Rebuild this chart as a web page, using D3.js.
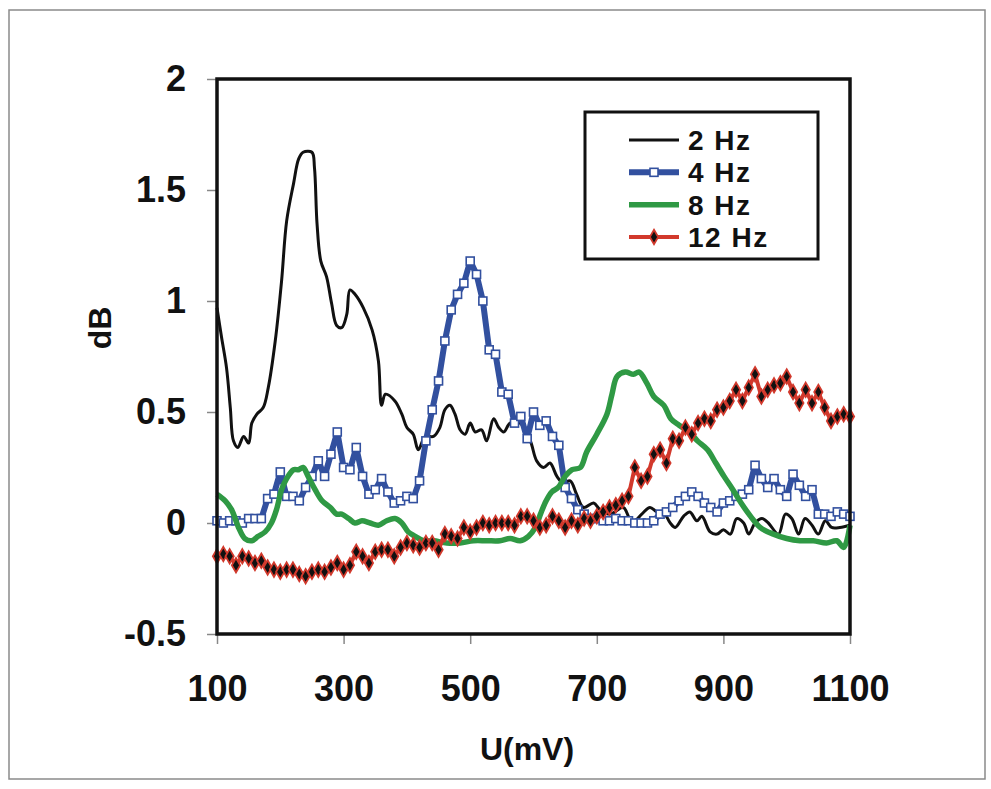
<!DOCTYPE html>
<html>
<head>
<meta charset="utf-8">
<script src="https://cdn.jsdelivr.net/npm/d3@7"></script>
<style>
  body { margin: 0; background: #fff; }
  text { font-family: "Liberation Sans", Arial, sans-serif; font-weight: bold; fill: #111; }
</style>
</head>
<body>
<div id="chart"></div>
<script>
// 2 Hz (black, smooth line)
const hz2X = [100,107,115,121,126,133,142,150,155,163,173,181,192,202,210,221,229,236,250,254,258,264,273,281,289,297,305,310,318,331,345,355,360,366,381,392,400,410,418,429,442,452,460,468,476,484,492,500,508,518,526,537,545,553,563,579,595,605,616,626,637,647,658,668,679,695,705,721,742,752,760,771,784,795,805,816,824,837,847,858,866,879,890,900,911,921,932,940,950,961,971,987,998,1008,1019,1029,1040,1050,1061,1071,1084,1100];
const hz2Y = [0.97,0.84,0.70,0.52,0.37,0.34,0.39,0.36,0.45,0.49,0.52,0.61,0.82,1.09,1.36,1.53,1.64,1.67,1.67,1.60,1.35,1.18,1.11,0.99,0.89,0.88,0.94,1.05,1.03,0.97,0.87,0.73,0.53,0.58,0.55,0.49,0.43,0.40,0.33,0.39,0.39,0.43,0.51,0.53,0.49,0.42,0.40,0.45,0.41,0.42,0.37,0.47,0.43,0.41,0.45,0.45,0.37,0.28,0.25,0.27,0.21,0.18,0.19,0.13,0.07,0.09,0.06,0.04,0.07,0.02,0.01,0.04,0.07,0.05,0.05,0.00,-0.02,0.03,0.05,0.01,0.03,-0.04,-0.05,-0.03,-0.05,0.02,0.00,-0.05,0.00,0.02,0.00,-0.05,0.04,0.02,-0.05,0.02,-0.01,-0.05,0.01,-0.02,-0.02,-0.01];

// 4 Hz and 12 Hz are sampled every 10 mV
const stepX = d3.range(100, 1101, 10);
const hz4Y = [0.01,0.00,0.01,0.01,0.00,0.02,0.02,0.02,0.11,0.13,0.23,0.12,0.12,0.10,0.16,0.21,0.28,0.21,0.31,0.41,0.25,0.24,0.34,0.21,0.13,0.15,0.20,0.14,0.09,0.10,0.12,0.11,0.19,0.37,0.51,0.64,0.82,0.96,1.03,1.08,1.18,1.12,1.00,0.78,0.76,0.59,0.58,0.45,0.48,0.38,0.50,0.44,0.46,0.39,0.35,0.16,0.11,0.06,0.04,0.02,0.02,0.01,0.01,0.02,0.01,0.01,0.00,0.00,0.00,0.01,0.04,0.05,0.07,0.10,0.12,0.14,0.12,0.09,0.07,0.05,0.09,0.10,0.12,0.13,0.15,0.26,0.20,0.16,0.20,0.15,0.12,0.22,0.17,0.12,0.15,0.04,0.04,0.03,0.05,0.04,0.03];
const hz12Y = [-0.15,-0.14,-0.15,-0.19,-0.15,-0.16,-0.18,-0.17,-0.20,-0.21,-0.22,-0.21,-0.21,-0.23,-0.24,-0.22,-0.21,-0.22,-0.20,-0.18,-0.21,-0.19,-0.13,-0.15,-0.18,-0.13,-0.12,-0.12,-0.15,-0.11,-0.09,-0.10,-0.11,-0.09,-0.09,-0.12,-0.05,-0.06,-0.07,-0.02,-0.04,-0.02,0.00,-0.01,0.00,0.00,0.00,-0.01,0.03,0.03,0.01,-0.02,-0.01,0.03,0.01,-0.02,0.01,-0.01,0.02,0.01,0.03,0.05,0.07,0.08,0.10,0.12,0.25,0.19,0.21,0.31,0.33,0.27,0.38,0.37,0.43,0.40,0.45,0.47,0.46,0.51,0.52,0.55,0.60,0.55,0.61,0.67,0.57,0.60,0.62,0.63,0.66,0.59,0.54,0.60,0.54,0.59,0.52,0.46,0.48,0.49,0.48];

// 8 Hz (green, smooth line)
const hz8X = [100,113,123,134,144,155,165,176,186,194,202,210,221,229,236,244,255,266,279,289,297,308,318,329,342,355,368,381,392,402,413,426,442,463,484,505,526,547,563,579,592,603,611,620,629,639,650,661,674,684,700,716,724,732,745,758,767,779,790,806,817,830,846,859,875,888,901,915,928,943,958,979,1000,1021,1042,1063,1079,1090,1100];
const hz8Y = [0.13,0.10,0.06,-0.02,-0.07,-0.08,-0.06,-0.04,0.00,0.06,0.15,0.20,0.24,0.24,0.25,0.21,0.15,0.10,0.07,0.04,0.04,0.02,0.00,0.01,0.00,-0.01,0.01,0.02,0.00,-0.04,-0.06,-0.08,-0.08,-0.09,-0.09,-0.08,-0.08,-0.08,-0.07,-0.08,-0.06,-0.02,0.04,0.10,0.14,0.16,0.21,0.24,0.25,0.32,0.40,0.49,0.58,0.66,0.68,0.67,0.68,0.63,0.57,0.53,0.47,0.44,0.41,0.37,0.33,0.27,0.21,0.15,0.09,0.03,-0.02,-0.05,-0.07,-0.08,-0.08,-0.09,-0.08,-0.11,-0.01];

const seriesNames = ["2 Hz", "4 Hz", "8 Hz", "12 Hz"];
const yTicks = [-0.5, 0, 0.5, 1, 1.5, 2];
const xTicks = [100, 300, 500, 700, 900, 1100];

const width = 991, height = 789;
const plot = {left: 217, right: 850, top: 79, bottom: 634};

const blue = "#32509f", green = "#2f9944", red = "#d2392c";

const svg = d3.select("#chart").append("svg")
  .attr("width", width)
  .attr("height", height);

// outer frame
svg.append("rect")
  .attr("x", 9).attr("y", 10)
  .attr("width", 976).attr("height", 769)
  .attr("fill", "none")
  .attr("stroke", "#8a8a8a")
  .attr("stroke-width", 1.5);

const x = d3.scaleLinear().domain([100, 1100]).range([plot.left, plot.right]);
const y = d3.scaleLinear().domain([-0.5, 2]).range([plot.bottom, plot.top]);

const yAxis = d3.axisLeft(y).tickValues(yTicks).tickSize(10).tickPadding(21).tickFormat(d => String(d));
const xAxis = d3.axisBottom(x).tickValues(xTicks).tickSize(10).tickPadding(31).tickFormat(d => String(d));

const gy = svg.append("g").attr("transform", `translate(${plot.left},0)`).call(yAxis);
const gx = svg.append("g").attr("transform", `translate(0,${plot.bottom})`).call(xAxis);

[gx, gy].forEach(g => {
  g.select(".domain").remove();
  g.selectAll(".tick line").attr("stroke", "#888").attr("stroke-width", 1.5);
  g.selectAll(".tick text")
    .attr("font-size", 36)
    .attr("font-family", '"Liberation Sans", Arial, sans-serif')
    .attr("font-weight", "bold")
    .attr("fill", "#111");
});

svg.append("text")
  .attr("transform", "translate(111,328) rotate(-90)")
  .attr("text-anchor", "middle")
  .attr("font-size", 32)
  .text("dB");

svg.append("text")
  .attr("x", 527).attr("y", 760)
  .attr("text-anchor", "middle")
  .attr("font-size", 32)
  .text("U(mV)");

const smooth = d3.line().x(d => x(d[0])).y(d => y(d[1])).curve(d3.curveCatmullRom);
const straight = d3.line().x(d => x(d[0])).y(d => y(d[1]));

const hz2 = d3.zip(hz2X, hz2Y);
const hz4 = d3.zip(stepX, hz4Y);
const hz8 = d3.zip(hz8X, hz8Y);
const hz12 = d3.zip(stepX, hz12Y);

const diamond = d3.symbol().type(d3.symbolDiamond).size(60);

svg.append("path").datum(hz2)
  .attr("d", smooth)
  .attr("fill", "none").attr("stroke", "#111").attr("stroke-width", 3);

svg.append("path").datum(hz4)
  .attr("d", straight)
  .attr("fill", "none").attr("stroke", blue).attr("stroke-width", 6)
  .attr("stroke-linejoin", "round");

svg.selectAll("rect.m4").data(hz4).enter().append("rect")
  .attr("class", "m4")
  .attr("x", d => x(d[0]) - 4).attr("y", d => y(d[1]) - 4)
  .attr("width", 8).attr("height", 8)
  .attr("fill", "#fff").attr("stroke", blue).attr("stroke-width", 1.6);

svg.append("path").datum(hz8)
  .attr("d", smooth)
  .attr("fill", "none").attr("stroke", green).attr("stroke-width", 5.5)
  .attr("stroke-linejoin", "round");

svg.append("path").datum(hz12)
  .attr("d", straight)
  .attr("fill", "none").attr("stroke", red).attr("stroke-width", 4)
  .attr("stroke-linejoin", "round");

svg.selectAll("path.m12").data(hz12).enter().append("path")
  .attr("class", "m12")
  .attr("d", diamond)
  .attr("transform", d => `translate(${x(d[0])},${y(d[1])})`)
  .attr("fill", "#111").attr("stroke", red).attr("stroke-width", 1.8);

// plot frame
svg.append("rect")
  .attr("x", plot.left).attr("y", plot.top)
  .attr("width", plot.right - plot.left).attr("height", plot.bottom - plot.top)
  .attr("fill", "none").attr("stroke", "#111").attr("stroke-width", 3.5);

// legend
const lg = svg.append("g");
lg.append("rect")
  .attr("x", 585).attr("y", 112).attr("width", 233).attr("height", 147)
  .attr("fill", "#fff").attr("stroke", "#111").attr("stroke-width", 3);

const rowY = d3.scalePoint().domain(seriesNames).range([140, 237]);
const styles = {
  "2 Hz": {c: "#111", w: 3},
  "4 Hz": {c: blue, w: 6},
  "8 Hz": {c: green, w: 5.5},
  "12 Hz": {c: red, w: 4}
};

seriesNames.forEach(name => {
  const yy = rowY(name);
  lg.append("line")
    .attr("x1", 629).attr("x2", 679).attr("y1", yy).attr("y2", yy)
    .attr("stroke", styles[name].c).attr("stroke-width", styles[name].w);
  if (name == "4 Hz") {
    lg.append("rect").attr("x", 650).attr("y", yy - 4).attr("width", 8).attr("height", 8)
      .attr("fill", "#fff").attr("stroke", blue).attr("stroke-width", 1.6);
  }
  if (name == "12 Hz") {
    lg.append("path").attr("d", diamond).attr("transform", `translate(654,${yy})`)
      .attr("fill", "#111").attr("stroke", red).attr("stroke-width", 1.8);
  }
  lg.append("text")
    .attr("x", 688).attr("y", yy + 10)
    .attr("font-size", 28)
    .attr("letter-spacing", 1.5)
    .text(name);
});
</script>
</body>
</html>
